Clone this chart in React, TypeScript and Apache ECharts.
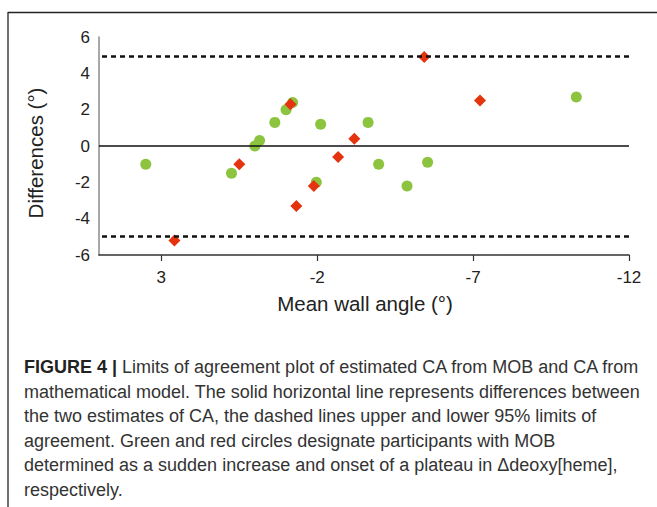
import React, { useEffect, useRef } from "react";
import * as echarts from "echarts";

// Data (mean wall angle °, difference °)
const greenX = [3.5, 0.75, 0.0, -0.15, -0.64, -1.0, -1.21, -2.11, -1.97, -3.63, -3.97, -4.88, -5.54, -10.31];
const greenY = [-1.0, -1.5, 0.0, 0.3, 1.3, 2.0, 2.4, 1.2, -2.0, 1.3, -1.0, -2.2, -0.9, 2.7];
const redX = [2.58, 0.5, -1.14, -1.33, -1.89, -2.67, -3.19, -5.43, -7.22];
const redY = [-5.2, -1.0, 2.3, -3.3, -2.2, -0.6, 0.4, 4.9, 2.5];
const meanDiff = 0;
const upperLimit = 4.95;
const lowerLimit = -4.95;
const xTickValues = [3, -2, -7, -12];

const captionLines = [
  "{b|FIGURE 4 |} Limits of agreement plot of estimated CA from MOB and CA from",
  "mathematical model. The solid horizontal line represents differences between",
  "the two estimates of CA, the dashed lines upper and lower 95% limits of",
  "agreement. Green and red circles designate participants with MOB",
  "determined as a sudden increase and onset of a plateau in \u0394deoxy[heme],",
  "respectively.",
];

const FONT = "'Liberation Sans', Arial, sans-serif";

export default function App() {
  const ref = useRef<HTMLDivElement>(null);
  useEffect(() => {
    if (!ref.current) return;
    const chart = echarts.init(ref.current, null, { renderer: "svg" });
    const green = greenX.map((x, i) => [x, greenY[i]]);
    const red = redX.map((x, i) => [x, redY[i]]);
    const captionStart = 367;
    const lineH = 24.6;
    chart.setOption({
      animation: false,
      backgroundColor: "#fff",
      grid: { left: 99, right: 28, top: 37, bottom: 252 },
      xAxis: {
        type: "value",
        inverse: true,
        min: -12,
        max: 5,
        splitLine: { show: false },
        axisLine: { show: true, onZero: false, lineStyle: { color: "#333", width: 1.5 } },
        axisTick: { show: true, customValues: xTickValues, length: 6, lineStyle: { color: "#333", width: 1.2 } },
        axisLabel: {
          customValues: xTickValues,
          margin: 14,
          fontSize: 17,
          color: "#222",
          fontFamily: FONT,
        },
      },
      yAxis: {
        type: "value",
        min: -6,
        max: 6,
        interval: 2,
        splitLine: { show: false },
        axisLine: { show: true, onZero: false, lineStyle: { color: "#8a8a8a", width: 1.5 } },
        axisTick: { show: false },
        axisLabel: { fontSize: 17, color: "#222", fontFamily: FONT, margin: 9 },
      },
      series: [
        {
          type: "scatter",
          data: green,
          symbol: "circle",
          symbolSize: 11,
          itemStyle: { color: "#8cc43f", opacity: 1 },
          z: 3,
          markLine: {
            silent: true,
            symbol: "none",
            label: { show: false },
            data: [
              { yAxis: meanDiff, lineStyle: { color: "#111", width: 1.5, type: "solid" } },
              { yAxis: upperLimit, lineStyle: { color: "#111", width: 2.5, type: [5, 4] } },
              { yAxis: lowerLimit, lineStyle: { color: "#111", width: 2.5, type: [5, 4] } },
            ],
          },
        },
        {
          type: "scatter",
          data: red,
          symbol: "diamond",
          symbolSize: 12,
          itemStyle: { color: "#e5330f", opacity: 1 },
          z: 4,
        },
      ],
      graphic: [
        { type: "line", shape: { x1: 8, y1: 12.5, x2: 657, y2: 12.5 }, style: { stroke: "#222", lineWidth: 1.3 } },
        { type: "line", shape: { x1: 8, y1: 12, x2: 8, y2: 507 }, style: { stroke: "#222", lineWidth: 1.3 } },
        {
          type: "text",
          x: 35,
          y: 153,
          rotation: Math.PI / 2,
          style: {
            text: "Differences (\u00b0)",
            fontSize: 20.5,
            fontFamily: FONT,
            fill: "#222",
            align: "center",
            verticalAlign: "middle",
          },
        },
        {
          type: "text",
          x: 365,
          y: 303,
          style: {
            text: "Mean wall angle (\u00b0)",
            fontSize: 20.5,
            fontFamily: FONT,
            fill: "#222",
            align: "center",
            verticalAlign: "middle",
          },
        },
        ...captionLines.map((t, i) => ({
          type: "text",
          x: 24,
          y: captionStart + i * lineH,
          style: {
            text: t,
            fontSize: 18,
            fontFamily: FONT,
            fill: "#333",
            align: "left",
            verticalAlign: "middle",
            rich: {
              b: { fontWeight: "bold", fontSize: 18, fontFamily: FONT, fill: "#222" },
            },
          },
        })),
      ],
    });
    return () => chart.dispose();
  }, []);
  return (
    <div
      ref={ref}
      style={{ position: "absolute", left: 0, top: 0, width: 657, height: 507 }}
    />
  );
}
